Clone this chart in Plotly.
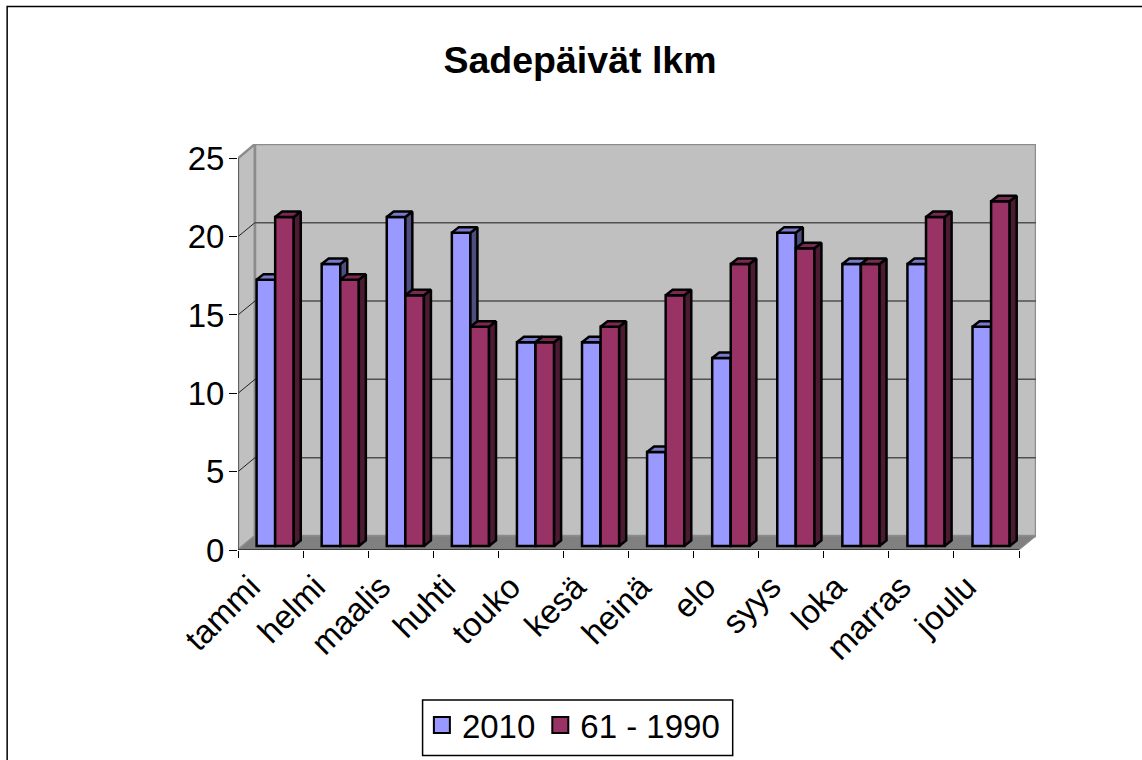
import plotly.graph_objects as go

categories = ["tammi", "helmi", "maalis", "huhti", "touko", "kesä", "heinä", "elo", "syys", "loka", "marras", "joulu"]
series_2010 = [17, 18, 21, 20, 13, 13, 6, 12, 20, 18, 18, 14]
series_6190 = [21, 17, 16, 14, 13, 14, 16, 18, 19, 18, 21, 22]
y_ticks = [0, 5, 10, 15, 20, 25]

W, H = 1142, 760
L, R, T, B = 238, 1036.5, 144, 550     # plot area in page pixels
UX = (1019.5 - 238) / 12               # px per category
UY = (550 - 158.3) / 25                # px per value unit
DX, DY = (R - 1019.5) / UX, (550 - 536) / UY  # wall depth in data units
BAR_DX, BAR_DY = 7 / UX, 5.5 / UY      # bar depth
FLOOR = 4 / UY                         # bar base above the front edge
BAR_L = 18.6 / UX
BAR_W = 18.6 / UX
YMAX = (B - T) / UY
XMAX = 12 + DX


def px_x(p):
    return (p - L) / (R - L)


def px_y(p):
    return (B - p) / (B - T)


C_A, C_A_SIDE, C_A_TOP = "#9999ff", "#4d4d80", "#7a7acc"
C_B, C_B_SIDE, C_B_TOP = "#993366", "#4d1a33", "#7a2952"


def polys(values, left):
    side_x, side_y, top_x, top_y = [], [], [], []
    for i, v in enumerate(values):
        x0 = i + left
        x1 = x0 + BAR_W
        y0 = FLOOR
        y1 = FLOOR + v
        side_x += [x1, x1 + BAR_DX, x1 + BAR_DX, x1, x1, None]
        side_y += [y0, y0 + BAR_DY, y1 + BAR_DY, y1, y0, None]
        top_x += [x0, x0 + BAR_DX, x1 + BAR_DX, x1, x0, None]
        top_y += [y1, y1 + BAR_DY, y1 + BAR_DY, y1, y1, None]
    return side_x, side_y, top_x, top_y


def add_series(fig, name, values, left, col, side, top, xa, ya):
    sx, sy, tx, ty = polys(values, left)
    edge = dict(color="black", width=2.5)
    fig.add_trace(go.Scatter(x=sx, y=sy, mode="lines", fill="toself", fillcolor=side, line=edge,
                             showlegend=False, hoverinfo="skip", xaxis=xa, yaxis=ya))
    fig.add_trace(go.Scatter(x=tx, y=ty, mode="lines", fill="toself", fillcolor=top, line=edge,
                             showlegend=False, hoverinfo="skip", xaxis=xa, yaxis=ya))
    fig.add_trace(go.Bar(x=[i + left + BAR_W / 2 for i in range(12)], y=values, base=FLOOR, width=BAR_W,
                         marker=dict(color=col, line=dict(color="black", width=2.5)),
                         name=name, showlegend=False, xaxis=xa, yaxis=ya))
    fig.add_trace(go.Scatter(x=[None], y=[None], mode="markers", name=name,
                             marker=dict(symbol="square", size=18, color=col, line=dict(color="black", width=2)),
                             xaxis=xa, yaxis=ya))


fig = go.Figure()
add_series(fig, "2010", series_2010, BAR_L, C_A, C_A_SIDE, C_A_TOP, "x", "y")
add_series(fig, "61 - 1990", series_6190, BAR_L + BAR_W, C_B, C_B_SIDE, C_B_TOP, "x2", "y2")

shapes = []
wall = dict(xref="x", yref="y", layer="below")
GREY = "#8c8c8c"
# left wall
shapes.append(dict(type="path", path=f"M 0 0 L {DX} {DY} L {DX} {YMAX} L 0 25 Z", fillcolor="#c0c0c0",
                   line=dict(color=GREY, width=2.5), **wall))
# back wall
shapes.append(dict(type="rect", x0=DX, x1=XMAX, y0=DY, y1=YMAX, fillcolor="#c0c0c0",
                   line=dict(color=GREY, width=2.5), **wall))
# floor
shapes.append(dict(type="path", path=f"M 0 0 L {DX} {DY} L {XMAX} {DY} L 12 0 Z", fillcolor="#808080",
                   line=dict(color=GREY, width=1), **wall))
# grid lines on back wall and slanted lines on left wall
for v in y_ticks[1:5]:
    shapes.append(dict(type="line", x0=DX, x1=XMAX, y0=v + DY, y1=v + DY, line=dict(color="#505050", width=1.5), **wall))
for v in y_ticks[1:5]:
    shapes.append(dict(type="line", x0=0, x1=DX, y0=v, y1=v + DY, line=dict(color="#202020", width=1), **wall))
# front edges
shapes.append(dict(type="line", x0=0, x1=0, y0=0, y1=25, line=dict(color="#505050", width=1.5), **wall))
shapes.append(dict(type="line", x0=0, x1=12, y0=0, y1=0, line=dict(color="#202020", width=1.5), **wall))
# outer frame (runs off the right and bottom edges of the page)
shapes.append(dict(type="rect", xref="paper", yref="paper",
                   x0=px_x(7), x1=px_x(1200), y0=px_y(800), y1=px_y(6.5),
                   line=dict(color="black", width=1.5), layer="below"))
# legend box
shapes.append(dict(type="rect", xref="paper", yref="paper",
                   x0=px_x(422.7), x1=px_x(733), y0=px_y(755.5), y1=px_y(700),
                   line=dict(color="black", width=1.5), fillcolor="white", layer="below"))

fig.update_layout(
    width=W, height=H, margin=dict(l=L, r=W - R, t=T, b=H - B, pad=0, autoexpand=False),
    paper_bgcolor="white", plot_bgcolor="rgba(0,0,0,0)", barmode="overlay",
    font=dict(family="Liberation Sans, Arial", color="black", size=33),
    title=dict(text="<b>Sadepäivät lkm</b>", font=dict(size=37.5), x=580 / W, xanchor="center", y=1 - 60 / H, yanchor="middle"),
    shapes=shapes,
    showlegend=True,
    legend=dict(orientation="h", x=px_x(422), xanchor="left", y=px_y(697), yanchor="top",
                borderwidth=0, bgcolor="rgba(0,0,0,0)", font=dict(size=33), traceorder="normal"),
    xaxis=dict(range=[0, XMAX], tickvals=[i + 0.5 for i in range(12)], ticktext=categories, tickangle=-45,
               ticks="", showgrid=False, zeroline=False, showline=False, ticklabelstandoff=10, ticklabelshift=-20,
               minor=dict(tickvals=list(range(13)), ticks="outside", ticklen=7, tickcolor="black", tickwidth=1.2, showgrid=False)),
    yaxis=dict(range=[0, YMAX], tickvals=y_ticks, ticks="outside", ticklen=8, tickcolor="black", tickwidth=1.2,
               showgrid=False, zeroline=False, showline=False, ticklabelstandoff=-2),
    xaxis2=dict(range=[0, XMAX], overlaying="x", visible=False),
    yaxis2=dict(range=[0, YMAX], overlaying="y", visible=False),
)

fig.write_html("out.html", config=dict(displayModeBar=False),
               post_script="document.body.style.margin='0';document.body.style.overflow='hidden';")
